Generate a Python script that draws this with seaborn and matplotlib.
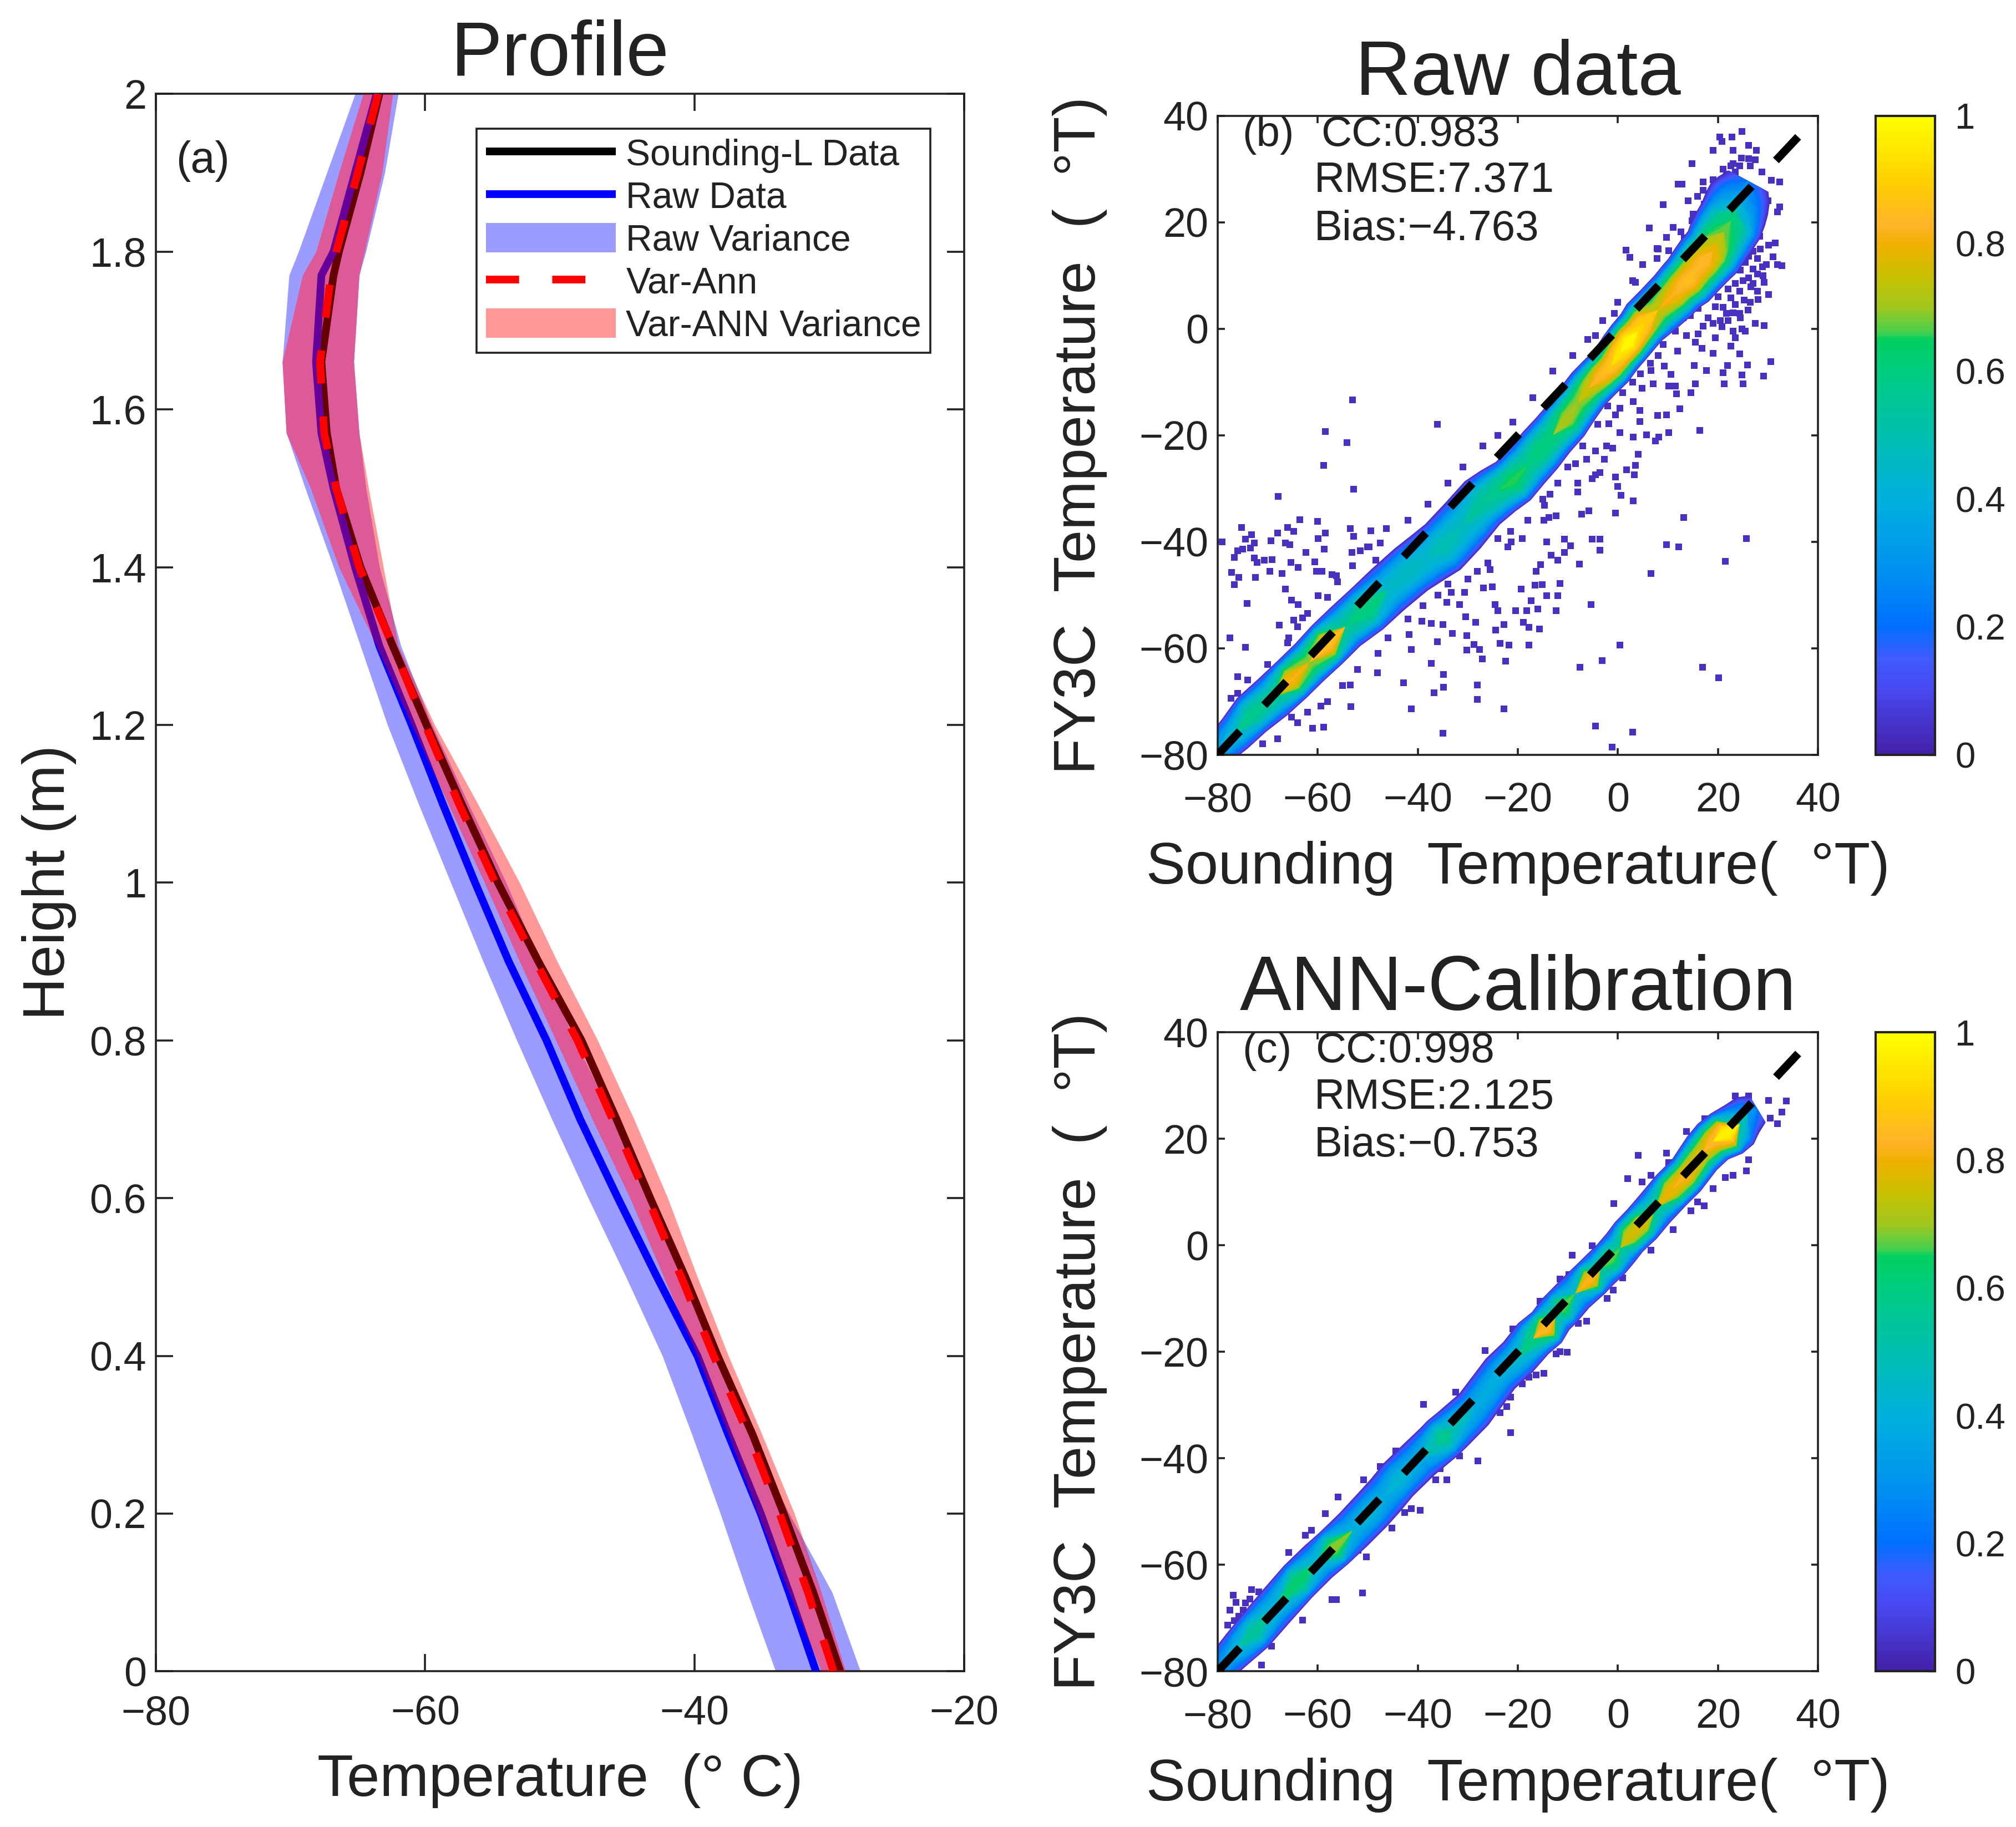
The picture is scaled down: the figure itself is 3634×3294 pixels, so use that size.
import numpy as np
import matplotlib
matplotlib.use("Agg")
import matplotlib.pyplot as plt
from matplotlib.colors import LinearSegmentedColormap, Normalize, to_hex
from matplotlib.cm import ScalarMappable
from matplotlib.lines import Line2D
from matplotlib.patches import Patch
import seaborn as sns

# ---------- profile panel ----------
heights = [0, .1, .2, .3, .4, .5, .6, .7, .8, .9, 1, 1.1, 1.2, 1.3, 1.4, 1.5, 1.57, 1.66, 1.77, 1.8, 1.9, 2]
sounding = [-29.2, -31.2, -33.4, -35.7, -38.3, -40.7, -43.3, -45.8, -48.4, -51.6, -54.6, -57.3, -59.9, -62.4,
            -64.8, -66.6, -67.3, -67.7, -66.8, -66.4, -64.8, -63.4]
raw_mean = [-31, -33, -35.1, -37.5, -39.8, -42.8, -45.7, -48.5, -51, -53.8, -56.3, -58.7, -61, -63.4,
            -65.2, -66.8, -67.7, -68.1, -67.7, -66.8, -65.2, -63.6]
var_ann = [-29.7, -31.6, -33.7, -36, -38.6, -41, -43.5, -46.1, -48.7, -51.8, -54.8, -57.5, -60, -62.4,
           -64.9, -66.6, -67.5, -67.8, -67, -66.6, -65, -63.5]
raw_low = [-34, -36.1, -38.1, -40.2, -42.4, -45.1, -47.9, -50.6, -53.2, -55.7, -58.1, -60.5, -62.8, -64.8,
           -66.8, -68.9, -70.3, -70.6, -70.1, -69.4, -67.3, -65.2]
raw_high = [-27.7, -29.8, -33, -35.9, -38.6, -40.9, -43.2, -46, -48.9, -51.5, -54, -56.8, -59.5, -61.8,
            -63.4, -64.4, -64.9, -65.3, -64.9, -64.4, -63, -62]
ann_low = [-30.6, -33, -35.3, -37.5, -39.8, -42.3, -44.8, -47.6, -50.3, -53, -55.6, -58.3, -61, -63.6,
           -66.4, -68.5, -70.3, -70.6, -69.1, -68.1, -66.4, -64.6]
ann_high = [-28.8, -30.6, -32.6, -35, -37.5, -39.8, -42, -44.5, -47.2, -50.2, -53, -56.1, -59.3, -62,
            -63.1, -64.2, -64.9, -65.3, -64.9, -64.5, -63.2, -62.4]
legend_labels = ["Sounding-L Data", "Raw Data", "Raw Variance", "Var-Ann", "Var-ANN Variance"]

# ---------- density ridges: x, y, peak density, half width ----------
raw_x = [-79.8, -76.5, -73.2, -69, -65.2, -61.6, -58.1, -54.5, -50.1, -46, -41.3, -38, -35, -31, -27.1, -24, -20.9,
         -18, -15.5, -13, -10.2, -8, -5.8, -3.5, -1.4, .5, 2.2, 4, 5.3, 8, 11, 12.5, 14.1, 15.7, 17.3, 19, 19.9,
         21.2, 22.6, 23.5, 24.3, 25.2, 26.1]
raw_y = [-79.1, -76, -72.5, -69.2, -65.9, -62.6, -59.3, -56, -52.6, -49, -45.2, -43, -41, -37, -32.7, -30.5, -28.6,
         -25.5, -22.8, -20, -17, -14, -11.2, -9, -7.1, -4.5, -2.5, -.5, 1.2, 3.5, 6.2, 7.8, 9.1, 11, 12.8, 14.5, 16.1,
         18.2, 20.3, 22.5, 24.4, 26, 27.7]
raw_d = [.35, .45, .58, .55, .82, .7, .86, .55, .62, .45, .47, .45, .5, .47, .55, .58, .66,
         .58, .62, .62, .72, .7, .76, .84, .88, .95, 1.0, .93, .9, .75, .82, .84, .86, .84, .85, .8, .75,
         .68, .62, .45, .35, .28, .2]
raw_w = [3.4, 3.9, 4.4, 4.6, 4.6, 4.6, 4.8, 4.8, 5.1, 5.2, 5.3, 5.5, 5.7, 5.7, 5.5, 5.3, 5.1,
         5, 5, 4.8, 4.8, 4.7, 4.6, 4.6, 4.6, 4.7, 4.8, 4.8, 5, 5.2, 5.4, 5.5, 5.8, 6, 6.2, 6.4, 6.6,
         6.8, 6.9, 6.9, 6.7, 6, 4.8]

ann_x = [-79.8, -76, -72.7, -68.5, -63.9, -60, -56.8, -53, -49.2, -46.5, -43.9, -39.5, -36.5, -34.9, -33, -28.8,
         -23.5, -20, -16.9, -14.2, -12.5, -11.1, -8.5, -5.4, -3.5, -1.4, .5, 2.2, 4.8, 7.5, 10.6, 13.7, 16.8, 19,
         21.7, 24.3, 26, 27.9]
ann_y = [-79.6, -75.8, -72.6, -68, -63.1, -59.5, -56.9, -53.5, -49.8, -47, -44, -40, -37.5, -36.1, -34.5, -30.8,
         -24.1, -21, -17.5, -15.4, -13, -11.7, -9, -6.3, -4.5, -2.6, -.5, 1.6, 4, 7, 10.3, 13.2, 17.3, 19.5,
         21, 22.7, 24.5, 25.6]
ann_d = [.3, .42, .55, .42, .63, .45, .7, .4, .42, .38, .43, .38, .5, .58, .48, .38,
         .4, .45, .6, .85, .55, .68, .45, .83, .55, .68, .55, .76, .78, .55, .8, .83, .78, .85,
         .98, .5, .3, .2]
ann_w = [3.2, 3.7, 4.1, 4.2, 4.2, 4.2, 4.2, 4.3, 4.4, 4.4, 4.4, 4.4, 4.5, 4.6, 4.5, 4.3,
         4.2, 4.2, 4.3, 4.2, 4.1, 4.1, 4, 4, 4, 4, 4, 4, 4.1, 4.1, 4.2, 4.2, 4.4, 4.6,
         5, 4.8, 4.2, 3.2]

# ---------- sparse points ----------
raw_out = """-75.2 -37.3 -79.1 -40 -73.2 -38.7 -74.5 -39.5 -72.7 -40.2 -73.4 -41.2 -75 -41.4 -76 -41.7 -76.7 -42.9 -72.7 -43.1
-72.1 -43.9 -70.7 -43.5 -69.1 -43.4 -77.2 -45.8 -75.8 -46.7 -76.7 -48.1 -72.5 -46.7 -69.6 -45.6 -67.1 -46 -69.4 -39.8
-68 -38.4 -66 -37.3 -64.8 -38.1 -63.6 -35.9 -66.5 -40.2 -65.6 -40.6 -62.4 -42 -60.6 -43.8 -65.4 -43.9 -63.9 -44.8
-60.3 -45.6 -59.2 -45.6 -60 -36.2 -59.9 -39.4 -58.5 -38.4 -58.7 -41.4 -67.9 -31.5 -58.8 -25.7 -58.5 -19.3 -53 -13.4
-54.2 -21.4 -52.8 -30.1 -53.5 -37.5 -52.8 -39 -49.4 -37.9 -46.3 -37.5 -47.5 -40.2 -49.7 -41 -51.5 -41.7 -53.2 -42
-48.4 -43.5 -57.2 -46.2 -56.3 -46.4 -66.5 -48.9 -65.2 -51 -63.9 -51.8 -74.1 -51.6 -59.9 -50.1 -64.8 -54.7 -67.7 -55.7
-63 -54.3 -77.6 -58 -74.5 -59.8 -65.8 -58 -76 -65.3 -77.3 -69.4 -59.4 -70.9 -53.4 -71 -61 -75 -58.8 -74.8
-71 -77.9 -65.2 -72.9 -48.1 -64.6 -53.5 -66.9 -42.9 -66.5 -41.3 -71.4 -36.8 -68.4 -34.9 -67.3 -34.9 -64.9 -37.3 -62.8
-36.1 -58.8 -41.3 -60.2 -41.7 -57.4 -39.2 -54.9 -37.3 -55.3 -35 -55.5 -33.1 -57.2 -30.2 -57.6 -28.4 -55.1 -30.4 -54.1
-34.2 -51.4 -31.7 -51.8 -30.6 -49.5 -33.3 -49.5 -28.1 -45.6 -25.5 -45.2 -26.9 -48.7 -25.1 -48.5 -24.6 -51.8 -24 -53
-24.4 -56.6 -22.8 -55.5 -23.5 -59.1 -21.8 -59.4 -28.8 -59.3 -27.7 -60.2 -27.1 -62 -22.4 -62.4 -30.2 -60.3 -28.1 -66.9
-28.1 -69.6 -22.8 -71.4 -35 -76 -19.3 -48.9 -16.6 -48.2 -15.1 -48.1 -11.6 -47.8 -12 -50.1 -14.2 -50.1 -17.3 -51.1
-16 -52.6 -18.2 -53 -12.4 -53 -20.4 -53 -18.9 -55.1 -17.8 -56.1 -15.7 -56.4 -17.8 -59.4 -5.4 -51.8 -7.6 -63.6
-3.1 -62.3 .4 -59.4 -4.5 -74.6 2.9 -75.8 -1.1 -78.6 16.9 -63.6 20.1 -65.6 6.6 -46 21.5 -43.7 25.7 -39.4
9.7 -40.6 12.1 -41 13.1 -35.5 -.5 -34.6 .6 -31.3 3.1 -32.3 -.5 -27.8 0 -29.6 -5.1 -39.5 -3.6 -39.5
-3.6 -41.6 -5.8 -34.2 -7.3 -34.8 -10.7 -39.5 -9.5 -40.8 -10.7 -42 -12 -43.5 -13.3 -42.5 -7.7 -44.2 -15.5 -44.3
-16.3 -45.6 -14.2 -40 -19.1 -39.4 -21.5 -38.1 -21.3 -40 -24 -39.4 -36.1 -18 -13.8 -35.4 -12.4 -35.1 -14.8 -36
-14.7 -33.2 -13.6 -31.1 -8 -30.7 -8 -29 -4.5 -27.4 -3.6 -27 -5.1 -28.2 -2.7 -24.5 -6.2 -24.5 -8.5 -25.3
-4.5 -23 -2.3 -22 -1 -22.4 .4 -19.5 -1.8 -17.8 3.1 -20.3 5.7 -19.9 7.5 -21.1 8.2 -20.3 10.2 -19.5
16.4 -19.1 4.1 -23.6 3.5 -25.7 3.3 -27.4 1.7 -26.5 12.4 -15 9.7 -16.2 7.9 -16.3 11.7 -12.2 14.6 -12
15.5 -10.4 10.2 -10.8 11.5 -10.8 7.1 -10.4 4.8 -11.2 3.1 -13.7 4.4 -15.3 .4 -14.9 -.5 -16.2 4.4 -17.4
21.2 -10.4 25 -10.4 29.1 -8.9 30.6 -6.2 24.8 -8.7 21 -8.3 25.9 -6.8 21.9 -6.9 17.7 -7.9 10.6 -8.6
9.3 -7 6.6 -7.9 15.3 -6.9 11.9 -4.2 24.3 -4.7 19 -4.6 16.8 -3.7 22.6 -3.3 19.5 -1.7 23.5 -1.7
29.2 .6 24.8 0 20.8 .4 15.5 -2.5 13.7 -1.3 24.3 2.9 21.7 2.9 19.5 4.1 25.2 5.4 22.6 5.8
30.1 6.4 27.9 7 26.6 7.9 29.2 8.7 31.9 12 32.8 11.8 29.7 12 31 13.5 27.9 13.2 26.1 13.6
31.4 16.1 30.1 15.7 28.3 17.4 28.9 21.1 31.9 21.9 32.3 22.9 30 24 30.7 27.9 32.3 27.6 27.9 10.3
27 11.2 28.9 11.6 26.1 9.5 24.3 7 23.5 4.5 20.4 36 20.8 35.2 22.8 36 24.8 37 19 33.5
23 33.5 26.1 34.4 27.7 33.5 24.7 32 14.8 31 26.1 31.9 27.4 31.7 22.6 30.6 24.3 30.6 26.5 30.6
28.8 29.4 23.5 29.4 21.7 29 12 27.1 12.8 27.1 17 27.6 19.7 27.6 9.1 23.3 15.9 24.8 17.3 23.4
15 21.5 14.8 20.3 6.3 18.9 12.6 18.2 9.7 17.1 13.3 17 7.8 15.1 10.2 14.6 7.8 13.2 1.6 14.7
2.4 13.4 3.5 8.7 -.7 2.9 -4.5 -1.3
22 1.5 23 3 24.5 2 26 3.5 21 4 20 6 22 7.5 23.5 8.5 25 9 26.5 5 28 5.5 27 8.5 29 10 24.5 11 25.5 12.5 27 14.5
28.5 15 26 17.5 27 19.5 28 23 25 13.5 18 2 19 1 17 .5 16 -1 20.5 1.5 23 -.5 25.5 -.5 27.5 1 14.5 2.5 16 3.8 13 2
11.5 -.5 9 -3 8 -5 6.5 -6.5 4.5 -8.5 3 -10 1 -12 -2 -14.5 -4 -18 -7 -22 -10 -26 -12 -29 -15 -32 -18 -36 -22 -41
-26 -44 -30 -47 -34 -48 -36 -50 -39 -52 -42 -54.5 -46 -58 -48 -61 -52 -64 -55 -67 -58 -70 -62 -72 -64 -74 -68 -77
-76 -68.5 -74 -66 -70 -63 -66 -59 -64 -56 -62 -53.5 -58 -50.5 -56 -47.5 -53 -44.5 -50 -41 -42 -36 -38 -33 -34 -29
-31 -26 -27 -22 -24 -20 -21 -17.5 -17 -13 -13 -8 -9 -5 -6 -2 -3 1.5 0 5 3 9 5 12 8 15 11 19 14 24 17 26 19 28 21 30 23 31"""
raw_out_values = [float(v) for v in raw_out.split()]
raw_out_x = raw_out_values[0::2]
raw_out_y = raw_out_values[1::2]

ann_out = """33.7 27.1 32.8 25 31.9 22.9 30.5 23.9 30.1 27.2 23.5 28.1 26.1 28.1 4.1 16.9 1.9 12.5 4.8 11.9
-.8 7.9 6.6 13.2 9.7 17.3 10.2 15.6 13.7 21.4 17.4 23.8 25.7 14 26.1 16.1 23 13.2 21.5 12.7
19 10.7 17.3 7.4 14.6 6.5 15.9 8.2 11 3 6.6 -.9 .9 -6.1 -.9 -8.4 -2.2 -10 -5.2 -.1
-9.1 -1.8 -11.6 -6.3 -9.8 -5.5 -15.6 -10.5 -6.2 -14.2 -7.9 -14.6 -21 -15.7 -26.5 -19.7 -11.6 -20 -10.1 -20.1
-12.4 -20.4 -14.8 -24 -16.4 -24.3 -17.8 -24.8 -19.1 -26 -21.5 -28.5 -22.2 -30.3 -23.5 -31.4 -38.9 -29.9 -32.4 -27.6
-21.4 -35.2 -28 -40.5 -34.2 -44 -36.4 -44 -35.5 -41.9 -31.7 -39.5 -44.4 -38.6 -39.5 -49.8 -41.3 -49.4 -42.6 -50.2
-45.2 -53.1 -47.5 -41.5 -50.8 -44 -55.9 -47.3 -58.5 -50.4 -61.2 -53.5 -62.5 -54.4 -65.8 -57.7 -50.3 -58.5 -51.9 -57.3
-51 -65.3 -56.3 -66.5 -57.2 -66.5 -63 -70.4 -73.2 -64.7 -76.9 -65.7 -74.5 -67.2 -77.6 -68.5 -75.8 -69.7 -78 -71.3
-71.8 -65.1 -73.6 -66.4 -71.2 -78.8 -69.2 -75.3 -76.3 -67 -74.9 -68.5 -76.7 -70.5"""
ann_out_values = [float(v) for v in ann_out.split()]
ann_out_x = ann_out_values[0::2]
ann_out_y = ann_out_values[1::2]

one_to_one = [-80, 38]
panel_ticks = [-80, -60, -40, -20, 0, 20, 40]
colorbar_ticks = [0, .2, .4, .6, .8, 1]
height_ticks = [0, .2, .4, .6, .8, 1, 1.2, 1.4, 1.6, 1.8, 2]
height_labels = ["0", "0.2", "0.4", "0.6", "0.8", "1", "1.2", "1.4", "1.6", "1.8", "2"]
profile_xticks = [-80, -60, -40, -20]

# ---------- style ----------
sns.set_theme(style="ticks")
INK = "#222222"
plt.rcParams["font.family"] = ["Liberation Sans", "DejaVu Sans"]
plt.rcParams.update({
    "text.color": INK, "axes.labelcolor": INK, "xtick.color": INK, "ytick.color": INK,
    "axes.edgecolor": INK, "axes.linewidth": 2.6,
})
TICK_FS, CB_FS, LABEL_FS, TITLE_FS, NOTE_FS, LEG_FS = 53, 47, 76.5, 100, 55, 47.5

parula = LinearSegmentedColormap.from_list("parula_like", [
    (0, "#4420a8"), (.1, "#4848f0"), (.15, "#3f5cff"), (.2, "#0070ff"), (.3, "#0095ee"), (.4, "#00b0dd"),
    (.5, "#00c0b0"), (.6, "#00cc80"), (.65, "#00d060"), (.66, "#40d050"), (.7, "#a0c820"), (.75, "#c8c000"),
    (.8, "#f0b000"), (.83, "#ffb428"), (.9, "#ffd000"), (1, "#ffff00")], N=256)

fig = plt.figure(figsize=(36.34, 32.94), dpi=100)
ax_a = fig.add_axes([.0772, .0852, .4011, .8634])
ax_b = fig.add_axes([.6040, .5869, .2978, .3498])
ax_c = fig.add_axes([.6040, .0852, .2978, .3497])
cax_b = fig.add_axes([.9305, .5869, .0293, .3498])
cax_c = fig.add_axes([.9305, .0852, .0293, .3497])


# ---------- panel a ----------
def vline(ax, x, color, **kw):
    sns.lineplot(x=x, y=heights, orient="y", sort=False, estimator=None, color=color, ax=ax, legend=False, **kw)


ax_a.fill_betweenx(heights, raw_low, raw_high, color="#0000ff", alpha=.39, lw=0, zorder=1)
ax_a.fill_betweenx(heights, np.maximum(raw_low, ann_low), np.minimum(raw_high, ann_high), color="#c896ff", lw=0, zorder=1.5)
vline(ax_a, sounding, "black", lw=10, zorder=2)
vline(ax_a, raw_mean, "#0000ff", lw=10, zorder=3)
ax_a.fill_betweenx(heights, ann_low, ann_high, color="#ff0000", alpha=.4, lw=0, zorder=4)
vline(ax_a, var_ann, "#ff0000", lw=10, zorder=5, dashes=(4.3, 4.3))
ax_a.set(xlim=(-80, -20), ylim=(0, 2), xticks=profile_xticks, yticks=height_ticks)
ax_a.set_yticklabels(height_labels)
ax_a.set_xlabel("Temperature  (° C)", fontsize=LABEL_FS)
ax_a.set_ylabel("Height (m)", fontsize=LABEL_FS)
ax_a.xaxis.set_label_coords(.5, -.052)
ax_a.yaxis.set_label_coords(-.098, .5)
ax_a.set_title("Profile", fontsize=TITLE_FS, pad=24)
ax_a.text(-78.5, 1.915, "(a)", fontsize=57, va="center")
ax_a.tick_params(direction="in", length=22, width=2.6, top=True, right=True, labelsize=TICK_FS)
ax_a.tick_params(axis="x", pad=30)
ax_a.tick_params(axis="y", pad=12)

handles = [
    Line2D([], [], color="black", lw=10, solid_capstyle="butt"),
    Line2D([], [], color="#0000ff", lw=10, solid_capstyle="butt"),
    Patch(facecolor="#0000ff", alpha=.39, lw=0),
    Line2D([], [], color="#ff0000", lw=10, dashes=(4.3, 4.3), dash_capstyle="butt"),
    Patch(facecolor="#ff0000", alpha=.4, lw=0),
]
leg = ax_a.legend(handles, legend_labels, loc="upper left", bbox_to_anchor=(.397, .978), borderaxespad=0,
                  fontsize=LEG_FS, frameon=True, fancybox=False, framealpha=1, edgecolor=INK,
                  handlelength=3.55, handleheight=.85, labelspacing=.21, handletextpad=.28, borderpad=.25)
leg.get_frame().set_linewidth(2.6)


# ---------- panels b, c ----------
def smooth(v):
    return np.convolve(np.pad(v, 3, mode="edge"), np.ones(7) / 7, mode="valid")


def density_band(ax, x, y, d, w):
    x, y, d, w = map(np.asarray, (x, y, d, w))
    tx, ty = smooth(np.gradient(x)), smooth(np.gradient(y))
    n = np.hypot(tx, ty)
    nx, ny = -ty / n, tx / n
    for lev in np.linspace(.03, 1, 60):
        h = w * np.clip(1 - lev / d, 0, None) ** .42
        h[d <= lev] = 0
        if not h.any():
            continue
        ax.fill(np.r_[x + h * nx, (x - h * nx)[::-1]], np.r_[y + h * ny, (y - h * ny)[::-1]],
                color=to_hex(parula(lev)), lw=0, zorder=2)


def density_panel(ax, cax, title, pad, rx, ry, rd, rw, ox, oy, tag, notes, note_x):
    sns.scatterplot(x=ox, y=oy, ax=ax, marker="s", s=70, color="#4a30c0", linewidth=0, zorder=1, legend=False)
    density_band(ax, rx, ry, rd, rw)
    sns.lineplot(x=one_to_one, y=one_to_one, ax=ax, color="black", lw=10.5, dashes=(4, 4.4), zorder=3, legend=False)
    ax.lines[-1].set_dash_capstyle("butt")
    ax.set(xlim=(-80, 40), ylim=(-80, 40), xticks=panel_ticks, yticks=panel_ticks)
    ax.set_title(title, fontsize=TITLE_FS, pad=pad)
    ax.set_xlabel("Sounding  Temperature(  °T)", fontsize=LABEL_FS)
    ax.set_ylabel("FY3C  Temperature  (  °T)", fontsize=LABEL_FS)
    ax.xaxis.set_label_coords(.5, -.135)
    ax.yaxis.set_label_coords(-.184, .5)
    ax.tick_params(direction="in", length=9, width=2.6, top=True, right=True, labelsize=TICK_FS)
    ax.tick_params(axis="x", pad=35)
    ax.tick_params(axis="y", pad=12)
    ax.text(-75.1, 36.4, tag, fontsize=NOTE_FS, va="center", clip_on=True, zorder=4)
    for (nx_, ny_, s) in zip(note_x, [36.4, 27.7, 18.7], notes):
        ax.text(nx_, ny_, s, fontsize=NOTE_FS, va="center", clip_on=True, zorder=4)
    cb = fig.colorbar(ScalarMappable(Normalize(0, 1), parula), cax=cax, ticks=colorbar_ticks)
    cb.ax.set_yticklabels(["0", "0.2", "0.4", "0.6", "0.8", "1"])
    cb.ax.tick_params(direction="in", length=9, width=2.4, labelsize=CB_FS, pad=26)
    cb.outline.set_linewidth(3)
    cb.outline.set_edgecolor(INK)


density_panel(ax_b, cax_b, "Raw data", 27, raw_x, raw_y, raw_d, raw_w, raw_out_x, raw_out_y, "(b)",
              ["CC:0.983", "RMSE:7.371", "Bias:\u22124.763"], [-59.4, -60.7, -60.7])
density_panel(ax_c, cax_c, "ANN-Calibration", 29, ann_x, ann_y, ann_d, ann_w, ann_out_x, ann_out_y, "(c)",
              ["CC:0.998", "RMSE:2.125", "Bias:\u22120.753"], [-60.5, -60.7, -60.7])

fig.savefig("out.png", dpi=100, facecolor="white")
